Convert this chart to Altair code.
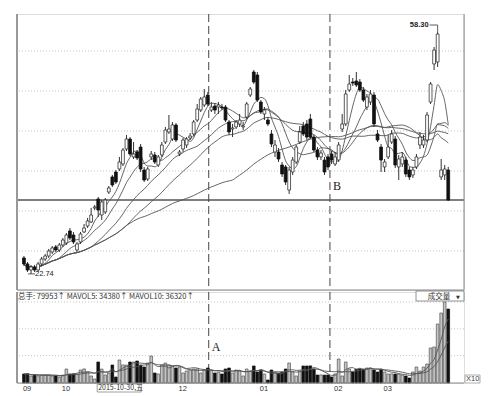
import altair as alt
import pandas as pd

# ---------------- data ----------------
opens = [25.08, 24.20, 23.31, 23.76, 23.31, 24.20, 24.93, 25.37, 25.96, 26.70,
         26.25, 26.99, 27.28, 29.05, 28.46, 26.25, 27.43, 28.90, 29.78, 30.37,
         32.43, 33.75, 31.40, 31.84, 34.78, 36.99, 37.72, 38.16, 38.90, 41.10,
         42.57, 39.93, 40.66, 41.39, 38.01, 36.69, 39.93, 40.22, 38.75, 40.22,
         42.13, 43.60, 42.57, 44.63, 40.37, 41.10, 41.69, 42.72, 43.31, 45.36,
         46.83, 47.57, 49.04, 46.83, 47.42, 47.27, 47.27, 47.27, 45.07, 44.04,
         44.34, 44.78, 44.34, 45.80, 49.04, 52.42, 51.98, 48.01, 46.25, 45.36,
         43.31, 40.66, 40.66, 38.75, 38.46, 35.07, 37.72, 39.19, 42.13, 44.48,
         44.78, 45.51, 42.86, 40.95, 39.93, 39.48, 39.93, 40.37, 38.90, 39.48,
         44.04, 44.78, 49.77, 50.95, 51.10, 50.95, 49.77, 47.27, 48.01, 49.04,
         43.31, 41.39, 38.46, 39.93, 42.13, 42.57, 38.46, 38.90, 39.48, 38.01,
         37.28, 38.46, 41.69, 41.69, 42.42, 48.01, 53.60, 53.89, 36.99, 37.28,
         38.01]
closes = [24.20, 23.31, 23.76, 23.31, 24.20, 24.93, 25.37, 26.11, 26.55, 26.25,
          26.99, 27.72, 28.46, 28.02, 27.43, 27.14, 28.61, 29.49, 30.52, 31.40,
          32.58, 32.13, 33.31, 33.60, 35.37, 35.81, 36.25, 39.19, 40.95, 42.57,
          40.37, 40.37, 39.78, 38.16, 36.54, 38.16, 40.37, 39.19, 39.93, 41.69,
          43.89, 44.04, 44.63, 42.42, 40.66, 42.42, 42.57, 43.01, 45.07, 46.98,
          48.45, 48.75, 47.72, 47.27, 46.83, 47.57, 47.13, 45.36, 43.60, 44.19,
          45.07, 45.36, 44.48, 47.72, 49.92, 50.95, 48.30, 46.54, 46.83, 44.78,
          41.84, 41.69, 39.63, 37.43, 36.25, 38.01, 39.48, 41.39, 43.60, 43.31,
          42.86, 42.86, 40.95, 39.93, 40.51, 37.72, 38.46, 39.48, 39.93, 41.69,
          44.78, 49.19, 50.66, 50.80, 50.51, 49.77, 48.30, 48.75, 49.19, 44.78,
          42.42, 39.48, 39.19, 41.39, 43.31, 38.75, 39.63, 39.93, 37.43, 36.99,
          38.01, 39.93, 42.86, 42.42, 46.10, 50.66, 55.65, 58.01, 38.01, 38.16,
          33.60]
highs = [25.37, 24.49, 24.05, 24.05, 24.49, 25.23, 25.67, 26.40, 26.84, 26.99,
         27.28, 28.02, 28.75, 29.49, 28.90, 27.43, 28.90, 30.08, 30.96, 32.43,
         32.87, 34.05, 33.60, 33.90, 35.66, 37.28, 38.01, 39.93, 41.25, 43.16,
         42.86, 42.13, 40.95, 41.84, 38.46, 38.46, 40.81, 40.66, 40.22, 42.13,
         44.34, 46.10, 45.07, 44.92, 40.95, 42.72, 42.86, 43.45, 45.36, 47.72,
         48.75, 49.92, 49.48, 48.01, 47.86, 48.01, 47.72, 47.57, 45.36, 44.78,
         45.36, 46.25, 45.07, 48.01, 50.22, 52.71, 52.42, 48.30, 47.27, 45.80,
         43.89, 42.42, 41.25, 39.19, 38.75, 38.46, 39.93, 41.69, 44.48, 45.07,
         45.36, 46.25, 43.16, 41.39, 40.95, 39.93, 40.37, 40.81, 40.66, 42.13,
         46.25, 49.77, 51.98, 51.54, 52.42, 51.39, 50.22, 49.19, 49.77, 49.48,
         43.89, 41.84, 39.63, 43.16, 43.89, 43.01, 40.22, 40.66, 39.93, 38.46,
         38.46, 40.37, 43.60, 43.16, 46.54, 50.95, 56.10, 58.30, 39.63, 38.75,
         38.46]
lows = [23.90, 23.02, 22.74, 23.02, 23.02, 23.90, 24.64, 25.08, 25.67, 25.96,
        25.96, 26.70, 26.99, 27.72, 27.14, 25.96, 27.14, 28.75, 29.49, 30.22,
        32.13, 31.11, 30.66, 31.55, 34.49, 35.51, 35.96, 37.87, 38.60, 40.81,
        40.07, 39.63, 39.48, 37.72, 36.25, 36.40, 39.48, 38.90, 38.46, 39.93,
        41.84, 43.31, 42.28, 42.13, 40.07, 40.66, 41.25, 42.42, 43.01, 45.07,
        46.54, 47.27, 47.42, 46.54, 46.25, 46.25, 46.83, 45.07, 43.16, 42.86,
        44.04, 44.34, 43.89, 45.51, 48.75, 50.66, 48.01, 46.25, 45.36, 44.48,
        41.39, 39.93, 39.19, 36.99, 35.81, 34.49, 37.28, 38.90, 41.84, 43.01,
        42.42, 42.57, 40.66, 39.48, 39.48, 37.28, 38.01, 38.90, 38.60, 39.19,
        43.60, 44.48, 49.48, 50.36, 50.22, 49.48, 48.01, 46.83, 47.57, 44.34,
        42.13, 37.72, 37.72, 39.63, 41.84, 38.31, 36.54, 38.46, 36.99, 36.54,
        36.84, 38.16, 41.10, 41.25, 42.13, 47.72, 52.71, 53.16, 36.54, 36.54,
        33.46]
volumes = [3650, 3720, 2840, 3240, 2910, 3180, 3300, 3240, 2800, 2870,
           2430, 3210, 5670, 3620, 3690, 3580, 5270, 5710, 4460, 2840,
           1620, 8510, 5640, 3240, 4050, 7290, 2430, 9320, 7330, 7250,
           8510, 8480, 8910, 7290, 6480, 8100, 10940, 4050, 3650, 7290,
           8100, 7330, 6890, 6080, 6480, 4050, 4860, 5270, 5670, 5710,
           4050, 5270, 6080, 5230, 4050, 4460, 3650, 5670, 6080, 4050,
           5270, 4860, 2840, 5670, 4860, 6890, 4460, 5270, 3650, 1220,
           5270, 4460, 4050, 4460, 5670, 8100, 4460, 2840, 4860, 6890,
           6890, 6930, 5670, 3240, 3280, 3200, 3240, 2430, 3650, 9720,
           2840, 8510, 5670, 4460, 5670, 5710, 5640, 6080, 6080, 5270,
           4460, 5670, 4460, 3650, 3690, 3620, 3650, 3240, 2840, 2030,
           4460, 6480, 4860, 6480, 7700, 14180, 14590, 23900, 28350, 32823,
           29970]

month_pos = [0, 11, 44, 67, 88, 102]
month_labels = ["09", "10", "12", "01", "02", "03"]
date_box_pos = [21]
date_box_label = ["2015-10-30,五"]
grid_prices = [55.51, 49.63, 43.75, 37.87, 31.99, 26.11]
ref_price = [33.60]
vol_ticks = [11080, 21952, 32823]
marker_pos = [52.26, 86.54]
marker_labels = ["A", "B"]
header = ["总手: 79953↑  MAVOL5: 34380↑  MAVOL10: 36320↑"]
ma_windows = [5, 10, 20, 30, 60]
mavol_windows = [5, 10]

# ---------------- chart ----------------
W, H1, H2 = 447, 276, 91
n = len(closes)
df = pd.DataFrame({"i": list(range(n)), "open": opens, "close": closes,
                   "high": highs, "low": lows, "vol": volumes})

xs = alt.Scale(domain=[-0.55, 123.04], nice=False, zero=False)
ys = alt.Scale(domain=[20.37, 60.95], nice=False, zero=False)
vs = alt.Scale(domain=[0, 36873], nice=False, zero=True)
X = alt.X("i:Q", scale=xs, axis=None)
UP = "datum.close >= datum.open"
base = alt.Chart(df)
FONT = "Liberation Sans"
CJK = "Noto Sans CJK SC"
BORDER = "#8a8a8a"

mk_df = pd.DataFrame({"m": marker_pos, "t": marker_labels})

# ---- top (price) panel ----
grid = alt.Chart(pd.DataFrame({"p": grid_prices})).mark_rule(
    color="#b5b5b5", strokeDash=[1, 2], strokeWidth=0.8
).encode(y=alt.Y("p:Q", scale=ys, axis=None))

ref = alt.Chart(pd.DataFrame({"p": ref_price})).mark_rule(
    color="#555555", strokeWidth=1.4
).encode(y=alt.Y("p:Q", scale=ys, axis=None))

dash_top = alt.Chart(mk_df).mark_rule(
    color="#444444", strokeDash=[8, 4], strokeWidth=1
).encode(x=alt.X("m:Q", scale=xs, axis=None))

ma = base
for w in ma_windows:
    ma = ma.transform_window(**{f"ma{w}": "mean(close)"}, frame=[-(w - 1), 0],
                             sort=[alt.SortField("i")])
ma_lines = ma.transform_fold([f"ma{w}" for w in ma_windows], as_=["key", "val"]).mark_line(
    color="#555555", strokeWidth=0.9, interpolate="monotone"
).encode(x=X, y=alt.Y("val:Q", scale=ys, axis=None), detail="key:N")

wicks = base.mark_rule(color="#333333", strokeWidth=1).encode(
    x=X, y=alt.Y("low:Q", scale=ys, axis=None), y2="high:Q")

bodies = base.mark_bar(size=2.8, strokeWidth=0.8).encode(
    x=X, y=alt.Y("open:Q", scale=ys, axis=None), y2="close:Q",
    fill=alt.condition(UP, alt.value("#ffffff"), alt.value("#111111")),
    stroke=alt.condition(UP, alt.value("#333333"), alt.value("#111111")))

hi = base.transform_joinaggregate(mx="max(high)").transform_filter("datum.high == datum.mx")
hi_text = hi.mark_text(align="right", baseline="middle", dx=-9, dy=-7, fontSize=7.5,
                       fontWeight="bold", font=FONT, color="#222222").encode(
    x=X, y=alt.Y("high:Q", scale=ys, axis=None), text=alt.Text("high:Q", format=".2f"))
hi_h = hi.mark_rule(color="#333333", strokeWidth=0.8, yOffset=-7, y2Offset=-7,
                    xOffset=-8, x2Offset=0).encode(
    x=X, x2="i:Q", y=alt.Y("high:Q", scale=ys, axis=None), y2="high:Q")
hi_v = hi.mark_rule(color="#333333", strokeWidth=0.8, yOffset=-7).encode(
    x=X, y=alt.Y("high:Q", scale=ys, axis=None), y2="high:Q")

lo = base.transform_joinaggregate(mn="min(low)").transform_filter("datum.low == datum.mn")
lo_text = lo.mark_text(align="left", baseline="middle", dx=4, fontSize=7.5,
                       font=FONT, color="#222222").encode(
    x=X, y=alt.Y("low:Q", scale=ys, axis=None), text=alt.Text("low:Q", format=".2f"))
lo_h = lo.mark_rule(color="#333333", strokeWidth=0.8, xOffset=-3, x2Offset=4).encode(
    x=X, x2="i:Q", y=alt.Y("low:Q", scale=ys, axis=None), y2="low:Q")

b_text = alt.Chart(mk_df).transform_filter("datum.t == 'B'").mark_text(
    align="left", baseline="middle", dx=3, fontSize=12, font="Liberation Serif", color="#222222"
).encode(x=alt.X("m:Q", scale=xs, axis=None), y=alt.value(172), text="t:N")

one = alt.Chart(pd.DataFrame({"k": [0]}))
left_top = one.mark_rule(color="#999999", strokeWidth=2).encode(
    x=alt.value(0), y=alt.value(0), y2=alt.value(H1))
right_top = one.mark_rule(color=BORDER, strokeWidth=1).encode(
    x=alt.value(W), y=alt.value(0), y2=alt.value(H1))
bottom_top = one.mark_rule(color=BORDER, strokeWidth=1.2).encode(
    x=alt.value(0), x2=alt.value(W), y=alt.value(H1))

top = alt.layer(grid, ref, dash_top, ma_lines, wicks, bodies, hi_h, hi_v, hi_text,
                lo_h, lo_text, b_text, left_top, right_top, bottom_top).properties(
    width=W, height=H1)

# ---- bottom (volume) panel ----
vgrid = alt.Chart(pd.DataFrame({"v": vol_ticks})).mark_rule(
    color="#b5b5b5", strokeDash=[1, 2], strokeWidth=0.8
).encode(y=alt.Y("v:Q", scale=vs, axis=None))

dash_bot = alt.Chart(mk_df).mark_rule(
    color="#444444", strokeDash=[8, 4], strokeWidth=1
).encode(x=alt.X("m:Q", scale=xs, axis=None))

vbars = base.mark_bar(size=2.7, strokeWidth=0.7).encode(
    x=X,
    y=alt.Y("vol:Q", scale=vs, axis=alt.Axis(
        orient="right", values=vol_ticks, format="d", labelFontSize=7.5,
        labelColor="#444444", labelFont=FONT, ticks=False, grid=False,
        domainColor=BORDER, labelPadding=2, title=None)),
    fill=alt.condition(UP, alt.value("#c4c4c4"), alt.value("#111111")),
    stroke=alt.condition(UP, alt.value("#555555"), alt.value("#111111")))

mv = base
for w in mavol_windows:
    mv = mv.transform_window(**{f"mv{w}": "mean(vol)"}, frame=[-(w - 1), 0],
                             sort=[alt.SortField("i")])
mavol = mv.transform_fold([f"mv{w}" for w in mavol_windows], as_=["key", "val"]).mark_line(
    color="#555555", strokeWidth=0.9, interpolate="monotone"
).encode(x=X, y=alt.Y("val:Q", scale=vs, axis=None), detail="key:N")

a_text = alt.Chart(mk_df).transform_filter("datum.t == 'A'").mark_text(
    align="left", baseline="middle", dx=3, fontSize=12, font="Liberation Serif", color="#222222"
).encode(x=alt.X("m:Q", scale=xs, axis=None), y=alt.value(55), text="t:N")

head = alt.Chart(pd.DataFrame({"t": header})).mark_text(
    align="left", baseline="middle", fontSize=7.5, font=CJK, color="#333333"
).encode(x=alt.value(1), y=alt.value(5), text="t:N")

box = one.mark_rect(fill="#ffffff", stroke="#777777", strokeWidth=0.8).encode(
    x=alt.value(399), x2=alt.value(W), y=alt.value(-1), y2=alt.value(9))
box_t = alt.Chart(pd.DataFrame({"t": ["成交量"]})).mark_text(
    align="center", baseline="middle", fontSize=7.5, font=CJK, color="#333333"
).encode(x=alt.value(422), y=alt.value(4.5), text="t:N")
box_arrow = alt.Chart(pd.DataFrame({"t": ["▼"]})).mark_text(
    align="center", baseline="middle", fontSize=5, font="DejaVu Sans", color="#333333"
).encode(x=alt.value(441), y=alt.value(4.5), text="t:N")

x10_box = one.mark_rect(fill="#ffffff", stroke="#999999", strokeWidth=0.8).encode(
    x=alt.value(W + 1), x2=alt.value(W + 16), y=alt.value(H2 - 8), y2=alt.value(H2))
x10 = alt.Chart(pd.DataFrame({"t": ["X10"]})).mark_text(
    align="left", baseline="middle", fontSize=7.5, font=FONT, color="#444444"
).encode(x=alt.value(W + 2), y=alt.value(H2 - 4), text="t:N")

months = alt.Chart(pd.DataFrame({"pos": month_pos, "lab": month_labels})).mark_text(
    align="left", baseline="middle", dx=-1, fontSize=7.5, font=FONT, color="#333333"
).encode(x=alt.X("pos:Q", scale=xs, axis=None), y=alt.value(H2 + 6), text="lab:N")

dbox_df = pd.DataFrame({"pos": date_box_pos, "lab": date_box_label})
dbox = alt.Chart(dbox_df).mark_rect(fill="#ffffff", stroke="#888888", strokeWidth=0.8,
                                    xOffset=-1, x2Offset=43).encode(
    x=alt.X("pos:Q", scale=xs, axis=None), x2="pos:Q",
    y=alt.value(H2 + 1), y2=alt.value(H2 + 9))
dbox_t = alt.Chart(dbox_df).mark_text(
    align="left", baseline="middle", dx=0, fontSize=7, font=CJK, color="#333333"
).encode(x=alt.X("pos:Q", scale=xs, axis=None), y=alt.value(H2 + 5), text="lab:N")

left_bot = one.mark_rule(color="#999999", strokeWidth=2).encode(
    x=alt.value(0), y=alt.value(0), y2=alt.value(H2))
bottom_bot = one.mark_rule(color=BORDER, strokeWidth=1).encode(
    x=alt.value(0), x2=alt.value(W), y=alt.value(H2))

bottom = alt.layer(vgrid, dash_bot, vbars, mavol, a_text, head, box, box_t, box_arrow,
                   x10_box, x10, dbox, dbox_t, months, left_bot, bottom_bot).properties(
    width=W, height=H2)

chart = alt.vconcat(top, bottom, spacing=2, bounds="flush").properties(
    padding={"left": 7, "top": 4, "right": 4, "bottom": 4}
).configure_view(stroke=None).configure(background="#ffffff")

chart.save("out.html", embed_options={"renderer": "svg", "actions": False})
